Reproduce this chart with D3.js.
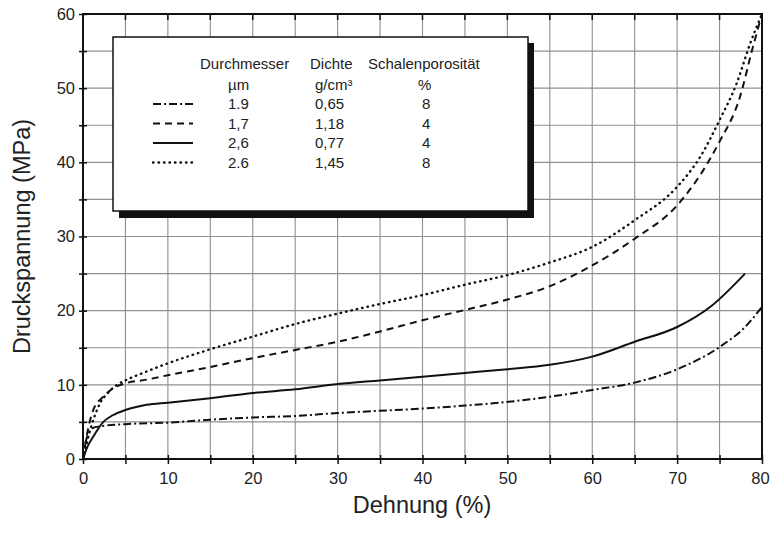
<!DOCTYPE html>
<html>
<head>
<meta charset="utf-8">
<script src="https://cdn.jsdelivr.net/npm/d3@7"></script>
<style>
  body { margin: 0; background: #fff; }
  text { font-family: "Liberation Sans", Arial, Helvetica, sans-serif; fill: #222; }
</style>
</head>
<body>
<svg width="770" height="534"></svg>
<script>
// strain (%) vs. stress (MPa)
const curve19 = [[0,0],[0.3,2.2],[0.7,3.6],[1.2,4.2],[2,4.4],[5,4.7],[10,4.9],[15,5.3],[20,5.6],[25,5.8],[30,6.2],[35,6.5],[40,6.8],[45,7.2],[50,7.7],[55,8.4],[60,9.3],[65,10.3],[70,12.1],[75,15.1],[78,17.8],[80,20.5]]
const curve17 = [[0,0],[0.5,3.5],[1.2,6.6],[2.4,8.4],[3.5,9.5],[5,10.2],[7.5,10.7],[10,11.3],[15,12.4],[20,13.6],[25,14.7],[30,15.8],[35,17.2],[40,18.7],[45,20.1],[50,21.5],[55,23.3],[60,26.1],[65,29.7],[70,34.2],[73.8,40.3],[75,42.8],[77.4,48.8],[78.8,55],[80,60]]
const curve26a = [[0,0],[0.5,1.6],[1.2,3.0],[2.4,5.0],[3.5,5.9],[5,6.6],[7.5,7.3],[10,7.6],[15,8.2],[20,8.9],[25,9.4],[30,10.1],[35,10.6],[40,11.1],[45,11.6],[50,12.1],[55,12.7],[60,13.8],[65,15.8],[70,17.8],[74,20.6],[78,25.0]]
const curve26b = [[0,0],[1,4.5],[2,7.5],[3,9],[4,10],[5,10.6],[7.5,11.8],[10,12.9],[15,14.8],[20,16.5],[25,18.2],[30,19.6],[35,20.9],[40,22.1],[45,23.5],[50,24.8],[55,26.5],[60,28.6],[65,32.2],[70,36.7],[72.7,40.7],[75,45.7],[77,50.6],[78.6,56],[80,60]]

const diameters = ['1.9', '1,7', '2,6', '2.6']
const densities = ['0,65', '1,18', '0,77', '1,45']
const porosities = ['8', '4', '4', '8']
const xTicks = [0, 10, 20, 30, 40, 50, 60, 70, 80]
const yTicks = [0, 10, 20, 30, 40, 50, 60]

const series = [
	{data: curve19, dash: '8,3,2,3'},
	{data: curve17, dash: '7,5'},
	{data: curve26a, dash: null},
	{data: curve26b, dash: '2,5'}
]

const svg = d3.select('svg')
const x = d3.scaleLinear().domain([0, 80]).range([83, 762])
const y = d3.scaleLinear().domain([0, 60]).range([459, 14])

// grid every 5 units
const grid = svg.append('g').attr('stroke', '#8f8f8f').attr('stroke-width', 1.1)
grid.selectAll('.gx')
	.data(d3.range(5, 80, 5))
	.join('line')
	.attr('x1', d => x(d)).attr('x2', d => x(d))
	.attr('y1', y(0)).attr('y2', y(60))
grid.selectAll('.gy')
	.data(d3.range(5, 60, 5))
	.join('line')
	.attr('y1', d => y(d)).attr('y2', d => y(d))
	.attr('x1', x(0)).attr('x2', x(80))

// axes
const xAxis = d3.axisBottom(x).tickValues(d3.range(0, 81, 5)).tickSize(5)
	.tickFormat(d => xTicks.includes(d) ? d : '')
const yAxis = d3.axisLeft(y).tickValues(d3.range(0, 61, 5)).tickSize(4)
	.tickFormat(d => yTicks.includes(d) ? d : '')

const gx = svg.append('g').attr('transform', `translate(0,${y(0)})`).call(xAxis)
const gy = svg.append('g').attr('transform', `translate(${x(0)},0)`).call(yAxis)
for (const g of [gx, gy]) {
	g.select('.domain').remove()
	g.selectAll('line').attr('stroke', '#111').attr('stroke-width', 1.5)
	g.selectAll('text').attr('font-size', '16.5px').attr('fill', '#333')
		.style('font-family', '"Liberation Sans", Arial, sans-serif')
}
gx.selectAll('line').attr('y1', -4)
gx.selectAll('text').attr('dy', '1.05em')
	.attr('dx', d => d === 80 ? -2 : 0)
gy.selectAll('line').attr('x2', -4).attr('x1', 4)
gy.selectAll('text').attr('x', -8)

// top ticks pointing inward
svg.append('g').selectAll('line')
	.data(d3.range(5, 80, 5))
	.join('line')
	.attr('x1', d => x(d)).attr('x2', d => x(d))
	.attr('y1', y(60)).attr('y2', y(60) + 6)
	.attr('stroke', '#111').attr('stroke-width', 1.5)

// frame
svg.append('rect')
	.attr('x', x(0)).attr('y', y(60))
	.attr('width', x(80) - x(0)).attr('height', y(0) - y(60))
	.attr('fill', 'none').attr('stroke', '#111').attr('stroke-width', 2)

// curves
const line = d3.line()
	.x(d => x(d[0])).y(d => y(d[1]))
	.curve(d3.curveMonotoneX)

svg.append('g')
	.selectAll('path')
	.data(series)
	.join('path')
	.attr('d', d => line(d.data))
	.attr('fill', 'none')
	.attr('stroke', '#111')
	.attr('stroke-width', d => d.dash === '2,5' ? 2.4 : 2)
	.attr('stroke-linecap', d => d.dash === '2,5' ? 'round' : 'butt')
	.attr('stroke-dasharray', d => d.dash === '2,5' ? '0.5,5' : d.dash)

// legend box with shadow
const lg = svg.append('g')
lg.append('rect')
	.attr('x', 119).attr('y', 43).attr('width', 415).attr('height', 175)
	.attr('fill', '#111')
lg.append('rect')
	.attr('x', 113).attr('y', 37).attr('width', 415).attr('height', 174)
	.attr('fill', '#fff').attr('stroke', '#111').attr('stroke-width', 1.5)

const cols = [
	{x: 200, head: 'Durchmesser', unitX: 228, unit: 'µm', valX: 228, vals: diameters},
	{x: 310, head: 'Dichte', unitX: 315, unit: 'g/cm³', valX: 315, vals: densities},
	{x: 368, head: 'Schalenporosität', unitX: 418, unit: '%', valX: 422, vals: porosities}
]
const rowY = [109, 128.5, 148, 167.5]

for (const c of cols) {
	lg.append('text').attr('x', c.x).attr('y', 69).attr('font-size', '15px').text(c.head)
	lg.append('text').attr('x', c.unitX).attr('y', 90).attr('font-size', '15px').text(c.unit)
	lg.selectAll(null)
		.data(c.vals)
		.join('text')
		.attr('x', c.valX)
		.attr('y', (d, i) => rowY[i])
		.attr('font-size', '15px')
		.text(d => d)
}

lg.selectAll('.sample')
	.data(series)
	.join('line')
	.attr('x1', 153).attr('x2', 193)
	.attr('y1', (d, i) => rowY[i] - 5).attr('y2', (d, i) => rowY[i] - 5)
	.attr('stroke', '#111')
	.attr('stroke-width', d => d.dash === '2,5' ? 2.4 : 2)
	.attr('stroke-linecap', d => d.dash === '2,5' ? 'round' : 'butt')
	.attr('stroke-dasharray', d => d.dash === '2,5' ? '0.5,5' : d.dash)

// axis titles
svg.append('text')
	.attr('x', 422).attr('y', 513)
	.attr('text-anchor', 'middle')
	.attr('font-size', '23.5px')
	.text('Dehnung (%)')

svg.append('text')
	.attr('transform', `translate(30,${(y(0) + y(60)) / 2}) rotate(-90)`)
	.attr('text-anchor', 'middle')
	.attr('font-size', '23.5px')
	.text('Druckspannung (MPa)')
</script>
</body>
</html>
